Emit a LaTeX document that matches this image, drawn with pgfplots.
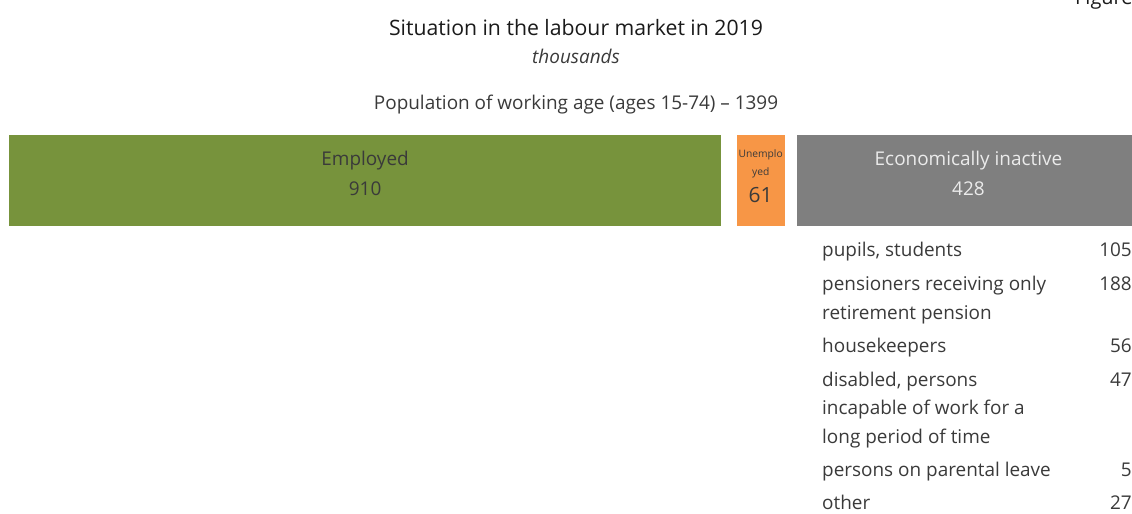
\documentclass[border=0pt]{standalone}
\usepackage{fontspec}
\setmainfont{Open Sans}
\usepackage{pgfplots}
\pgfplotsset{compat=1.18}
\definecolor{empl}{HTML}{77933C}
\definecolor{unem}{HTML}{F79646}
\definecolor{inac}{HTML}{7F7F7F}
\definecolor{txt}{HTML}{1A1A1A}
\definecolor{body}{HTML}{3A3A3A}
\newcommand{\fs}[1]{\fontsize{#1}{#1}\selectfont}
\begin{document}
\begin{tikzpicture}[x=1bp,y=1bp]
\useasboundingbox (0,0) rectangle (1132,514);
% header
\node[anchor=base west, inner sep=0, font=\fs{20}, text=txt] at (1075,509) {Figure 1};
\node[anchor=base, inner sep=0, font=\fs{21.3}, text=txt] at (576,478) {Situation in the labour market in 2019};
\node[anchor=base, inner sep=0, font=\fs{19}\itshape, text=body] at (576,450) {thousands};
\node[anchor=base, inner sep=0, font=\fs{19}, text=body] at (576,404) {Population of working age (ages 15-74) -- 1399};
\begin{axis}[
  at={(9bp,288bp)}, anchor=south west,
  scale only axis, width=1123bp, height=91bp,
  xbar stacked, bar width=91bp,
  xmin=0, xmax=1435, ymin=0, ymax=1,
  axis lines=none, clip=false,
]
\addplot[fill=empl, draw=none] coordinates {(910,0.5)};
\addplot[fill=none, draw=none] coordinates {(20,0.5)};
\addplot[fill=unem, draw=none] coordinates {(61,0.5)};
\addplot[fill=none, draw=none] coordinates {(16,0.5)};
\addplot[fill=inac, draw=none] coordinates {(428,0.5)};
\coordinate (E1) at (axis cs:455,0.66);
\coordinate (E2) at (axis cs:455,0.33);
\coordinate (U1) at (axis cs:960.5,0.75);
\coordinate (U2) at (axis cs:960.5,0.55);
\coordinate (U3) at (axis cs:960.5,0.26);
\coordinate (I1) at (axis cs:1226,0.66);
\coordinate (I2) at (axis cs:1226,0.33);
\end{axis}
\node[anchor=base, inner sep=0, font=\fs{19}, text=body] at (E1) {Employed};
\node[anchor=base, inner sep=0, font=\fs{19}, text=body] at (E2) {910};
\node[anchor=base, inner sep=0, font=\fs{10.3}, text=body] at (U1) {Unemplo};
\node[anchor=base, inner sep=0, font=\fs{10.3}, text=body] at (U2) {yed};
\node[anchor=base, inner sep=0, font=\fs{21}, text=body] at (U3) {61};
\node[anchor=base, inner sep=0, font=\fs{19}, text=white!92!black] at (I1) {Economically inactive};
\node[anchor=base, inner sep=0, font=\fs{19}, text=white!92!black] at (I2) {428};
% breakdown list
\begin{scope}[every node/.style={inner sep=0, font=\fs{19}, text=body}]
\node[anchor=base west] at (822,514-257) {pupils, students};
\node[anchor=base east] at (1132,514-257) {105};
\node[anchor=base west] at (822,514-291) {pensioners receiving only};
\node[anchor=base east] at (1132,514-291) {188};
\node[anchor=base west] at (822,514-320) {retirement pension};
\node[anchor=base west] at (822,514-353) {housekeepers};
\node[anchor=base east] at (1132,514-353) {56};
\node[anchor=base west] at (822,514-387) {disabled, persons};
\node[anchor=base east] at (1132,514-387) {47};
\node[anchor=base west] at (822,514-415) {incapable of work for a};
\node[anchor=base west] at (822,514-444) {long period of time};
\node[anchor=base west] at (822,514-477) {persons on parental leave};
\node[anchor=base east] at (1132,514-477) {5};
\node[anchor=base west] at (822,514-510) {other};
\node[anchor=base east] at (1132,514-510) {27};
\end{scope}
\end{tikzpicture}
\end{document}
